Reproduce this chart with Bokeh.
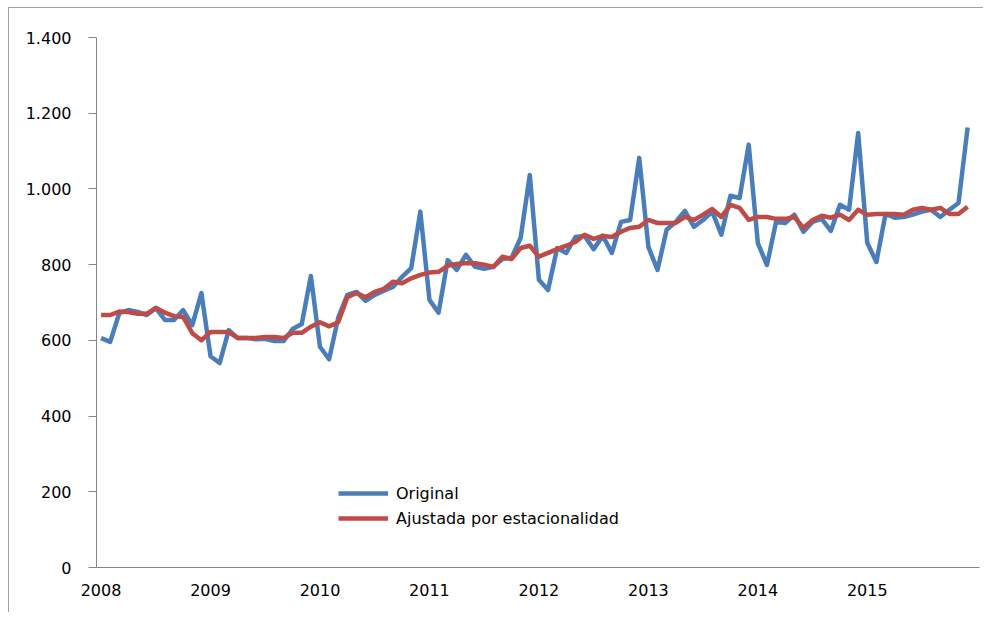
from bokeh.plotting import figure
from bokeh.models import Range1d, FixedTicker, Legend, LegendItem
from bokeh.embed import file_html
from bokeh.resources import INLINE

years = ["2008", "2009", "2010", "2011", "2012", "2013", "2014", "2015"]
y_ticks = [0, 200, 400, 600, 800, 1000, 1200, 1400]
y_tick_labels = ["0", "200", "400", "600", "800", "1.000", "1.200", "1.400"]

original = [
    606, 596, 672, 680, 675, 667, 685, 654, 654, 680, 640, 725,
    558, 540, 627, 606, 606, 603, 604, 598, 598, 630, 643, 770,
    583, 550, 660, 720, 728, 704, 720, 731, 741, 768, 791, 940,
    707, 673, 812, 786, 826, 794, 789, 794, 815, 818, 871, 1037,
    760, 733, 844, 831, 873, 876, 841, 876, 831, 913, 918, 1082,
    847, 786, 892, 913, 942, 900, 918, 940, 879, 982, 976, 1117,
    857, 799, 913, 910, 932, 887, 913, 921, 889, 958, 945, 1148,
    857, 807, 934, 924, 926, 932, 940, 945, 926, 945, 963, 1162,
]
ajustada = [
    667, 667, 676, 675, 670, 670, 686, 673, 664, 662, 619, 600,
    622, 622, 622, 606, 606, 606, 609, 609, 606, 620, 620, 636,
    648, 637, 648, 714, 725, 714, 728, 736, 755, 751, 764, 773,
    779, 781, 797, 802, 804, 804, 800, 794, 821, 815, 844, 850,
    821, 831, 841, 850, 860, 879, 868, 876, 873, 887, 897, 900,
    918, 910, 910, 910, 926, 918, 932, 947, 926, 958, 950, 918,
    926, 926, 921, 921, 926, 897, 918, 929, 924, 932, 918, 945,
    932, 934, 934, 934, 932, 945, 950, 945, 950, 934, 934, 953,
]
series_names = ["Original", "Ajustada por estacionalidad"]

months = list(range(len(original)))
FONT = "DejaVu Sans"

p = figure(width=975, height=605, output_backend="svg", toolbar_location=None,
           x_range=Range1d(-0.5, 96.3), y_range=Range1d(0, 1400),
           min_border_left=87, min_border_right=5, min_border_top=29, min_border_bottom=46)
p.styles = {"margin-left": "8px", "margin-top": "7px",
            "border-left": "1px solid #a0a0a0", "border-top": "1px solid #a0a0a0",
            "box-sizing": "border-box"}
p.outline_line_color = None
p.xgrid.visible = False
p.ygrid.visible = False
p.background_fill_color = "white"
p.border_fill_color = "white"

r1 = p.line(months, original, line_color="#4A7EBB", line_width=4.5, line_join="round")
r2 = p.line(months, ajustada, line_color="#BE4B48", line_width=4.5, line_join="round")

p.xaxis.ticker = FixedTicker(ticks=[12 * i for i in range(len(years))])
p.xaxis.major_label_overrides = {12 * i: y for i, y in enumerate(years)}
p.xaxis.major_tick_line_color = None
p.xaxis.minor_tick_line_color = None
p.xaxis.axis_line_color = "#868686"
p.xaxis.major_label_text_font = FONT
p.xaxis.major_label_text_font_size = "16px"
p.xaxis.major_label_text_color = "black"
p.xaxis.major_label_standoff = 10

p.yaxis.ticker = FixedTicker(ticks=y_ticks)
p.yaxis.major_label_overrides = {t: l for t, l in zip(y_ticks, y_tick_labels)}
p.yaxis.major_tick_in = 0
p.yaxis.major_tick_out = 8
p.yaxis.minor_tick_line_color = None
p.yaxis.major_tick_line_color = "#868686"
p.yaxis.axis_line_color = "#868686"
p.yaxis.major_label_text_font = FONT
p.yaxis.major_label_text_font_size = "16px"
p.yaxis.major_label_text_color = "black"
p.yaxis.major_label_standoff = 17

legend = Legend(items=[LegendItem(label=series_names[0], renderers=[r1]),
                       LegendItem(label=series_names[1], renderers=[r2])],
                location=(242, 39), orientation="vertical",
                background_fill_alpha=0, border_line_color=None,
                padding=0, margin=0, spacing=5,
                glyph_width=50, glyph_height=20, label_height=20,
                label_standoff=8,
                label_text_font=FONT, label_text_font_size="16px",
                label_text_color="black")
p.add_layout(legend, "center")

open("out.html", "w").write(file_html(p, INLINE))
